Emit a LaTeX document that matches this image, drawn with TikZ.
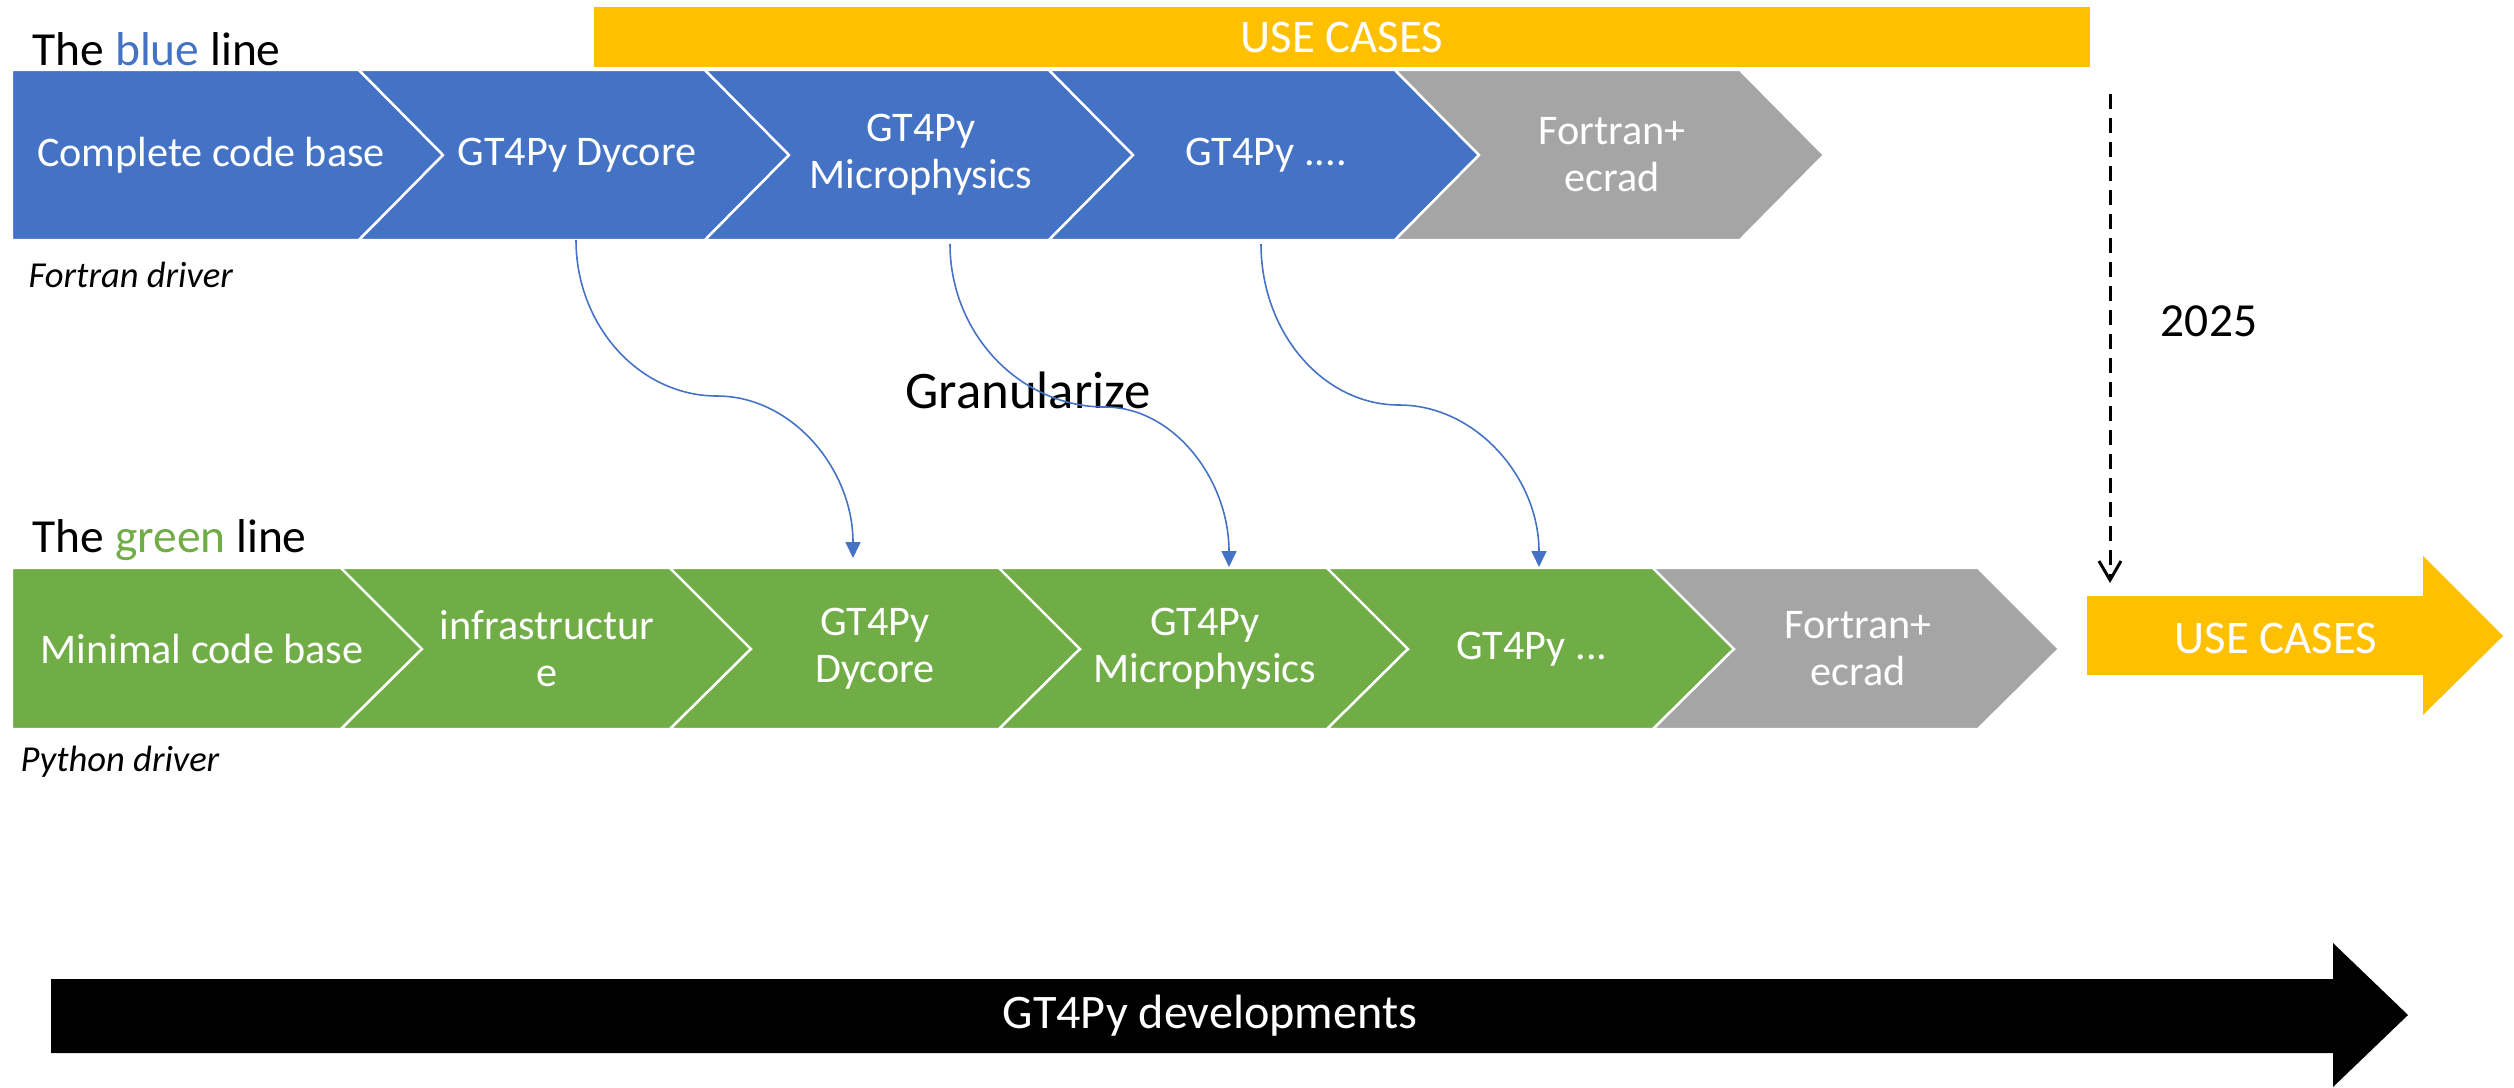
\documentclass[tikz,border=0pt]{standalone}
\usepackage{fontspec}
\setmainfont{Carlito}
\usetikzlibrary{arrows.meta,calc}
\definecolor{cblue}{HTML}{4472C4}
\definecolor{cgreen}{HTML}{70AD47}
\definecolor{cgray}{HTML}{A5A5A5}
\definecolor{cyellow}{HTML}{FFC000}
\begin{document}
\begin{tikzpicture}[x=0.01cm,y=-0.01cm,
  chev/.style={draw=white, line width=0.7pt, line join=miter},
  chevtext/.style={text=white, align=center, font=\fontsize{12}{13.4}\selectfont, inner sep=0pt},
  title/.style={anchor=base west, inner sep=0pt, font=\fontsize{13.5}{16}\selectfont},
  driver/.style={anchor=base west, inner sep=0pt, font=\fontsize{10.4}{12}\selectfont\itshape},
  gran/.style={-{Triangle[length=0.16cm,width=0.15cm]}, draw=cblue, line width=0.45pt},
  bigtext/.style={text=white, font=\fontsize{13.3}{16}\selectfont, inner sep=0pt},
  dasharrow/.style={draw=black, line width=0.85pt, dash pattern=on 0.15cm off 0.09cm, -{Straight Barb[length=0.19cm,width=0.22cm]}}
]
\useasboundingbox (0,0) rectangle (2514,1087);

% top use cases bar
\node[fill=cyellow, minimum width=14.96cm, minimum height=0.6cm, bigtext] (uc1) at (1342,37) {USE CASES};

% blue row
\draw[chev, fill=cblue] (12,70) -- (359,70) -- (443,155) -- (359,240) -- (12,240) -- cycle;
\foreach \l/\r/\c in {359/705/cblue, 705/1049/cblue, 1049/1395/cblue, 1395/1740/cgray}
  \draw[chev, fill=\c] (\l,70) -- (\r,70) -- (\r+84,155) -- (\r,240) -- (\l,240) -- (\l+84,155) -- cycle;

\node[chevtext] (b1) at (211,155) {Complete code base};
\node[chevtext] (b2) at (577,155) {GT4Py Dycore};
\node[chevtext] (b3) at (921,155) {GT4Py\\Microphysics};
\node[chevtext] (b4) at (1266,155) {GT4Py ....};
\node[chevtext] (b5) at (1612,155) {Fortran+\\ecrad};

% green row
\draw[chev, fill=cgreen] (12,568) -- (341,568) -- (422,649) -- (341,729) -- (12,729) -- cycle;
\foreach \l/\r/\c in {341/670/cgreen, 670/999/cgreen, 999/1327/cgreen, 1327/1653/cgreen, 1653/1978/cgray}
  \draw[chev, fill=\c] (\l,568) -- (\r,568) -- (\r+81,649) -- (\r,729) -- (\l,729) -- (\l+81,649) -- cycle;

\node[chevtext] (g1) at (202,649) {Minimal code base};
\node[chevtext] (g2) at (547,649) {infrastructur\\e};
\node[chevtext] (g3) at (875,649) {GT4Py\\Dycore};
\node[chevtext] (g4) at (1205,649) {GT4Py\\Microphysics};
\node[chevtext] (g5) at (1532,649) {GT4Py ...};
\node[chevtext] (g6) at (1858,649) {Fortran+\\ecrad};

% labels
\node[title] (tb) at (32,65) {The \textcolor{cblue}{blue} line};
\node[title] (tg) at (32,552) {The \textcolor{cgreen}{green} line};
\node[driver] (fd) at (28,287) {Fortran driver};
\node[driver] (pd) at (20,771) {Python driver};
\node[anchor=base, inner sep=0pt, font=\fontsize{15}{18}\selectfont] (gr) at (1028,408) {Granularize};
\node[anchor=base, inner sep=0pt, font=\fontsize{13.5}{16}\selectfont] (yr) at (2209,336) {2025};

% granularize connectors
\coordinate (s1) at (576,240); \coordinate (m1) at (717,396); \coordinate (e1) at (853,558);
\coordinate (s2) at (950,244); \coordinate (m2) at (1105,407); \coordinate (e2) at (1229,567);
\coordinate (s3) at (1261,244); \coordinate (m3) at (1399,405); \coordinate (e3) at (1539,567);
\foreach \i in {1,2,3}
  \draw[gran] (s\i) .. controls ($(s\i)!0.55!(s\i|-m\i)$) and ($(m\i)!0.55!(s\i|-m\i)$) .. (m\i)
                    .. controls ($(m\i)!0.55!(e\i|-m\i)$) and ($(e\i)!0.55!(e\i|-m\i)$) .. (e\i);

% use cases arrow
\fill[cyellow] (2087,596) -- (2423,596) -- (2423,556) -- (2503,636) -- (2423,715) -- (2423,675) -- (2087,675) -- cycle;
\node[bigtext] (uc2) at (2276,638) {USE CASES};

% dashed 2025 arrow
\coordinate (d1) at (2110,94);
\coordinate (d2) at (2110,583);
\draw[dasharrow] (d1) -- (d2);

% developments arrow
\fill[black] (51,979) -- (2333,979) -- (2333,943) -- (2408,1015) -- (2333,1087) -- (2333,1053) -- (51,1053) -- cycle;
\node[text=white, inner sep=0pt, font=\fontsize{13.7}{16}\selectfont] (dev) at (1210,1016) {GT4Py developments};
\end{tikzpicture}
\end{document}
